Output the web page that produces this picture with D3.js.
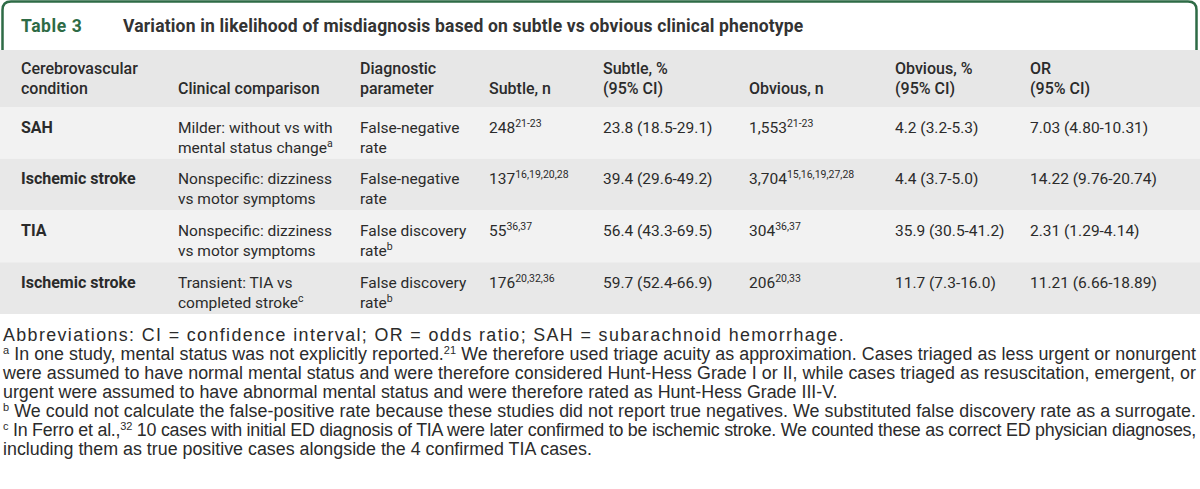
<!DOCTYPE html>
<html>
<head>
<meta charset="utf-8">
<script src="https://cdn.jsdelivr.net/npm/d3@7"></script>
<style>
  body { margin: 0; background: #fff; }
  svg { display: block; }
</style>
</head>
<body>
<script>
// table content, "^" marks the start of a superscript
var tableLabel = 'Table 3';
var tableTitle = 'Variation in likelihood of misdiagnosis based on subtle vs obvious clinical phenotype';

var headers = [
  ['Cerebrovascular', 'condition'],
  ['', 'Clinical comparison'],
  ['Diagnostic', 'parameter'],
  ['', 'Subtle, n'],
  ['Subtle, %', '(95% CI)'],
  ['', 'Obvious, n'],
  ['Obvious, %', '(95% CI)'],
  ['OR', '(95% CI)']
];

var conditions = ['SAH', 'Ischemic stroke', 'TIA', 'Ischemic stroke'];
var comparisons = [
  ['Milder: without vs with', 'mental status change^a'],
  ['Nonspecific: dizziness', 'vs motor symptoms'],
  ['Nonspecific: dizziness', 'vs motor symptoms'],
  ['Transient: TIA vs', 'completed stroke^c']
];
var parameters = [
  ['False-negative', 'rate'],
  ['False-negative', 'rate'],
  ['False discovery', 'rate^b'],
  ['False discovery', 'rate^b']
];
var subtleN = ['248^21-23', '137^16,19,20,28', '55^36,37', '176^20,32,36'];
var subtlePct = ['23.8 (18.5-29.1)', '39.4 (29.6-49.2)', '56.4 (43.3-69.5)', '59.7 (52.4-66.9)'];
var obviousN = ['1,553^21-23', '3,704^15,16,19,27,28', '304^36,37', '206^20,33'];
var obviousPct = ['4.2 (3.2-5.3)', '4.4 (3.7-5.0)', '35.9 (30.5-41.2)', '11.7 (7.3-16.0)'];
var oddsRatio = ['7.03 (4.80-10.31)', '14.22 (9.76-20.74)', '2.31 (1.29-4.14)', '11.21 (6.66-18.89)'];

// footnote lines as they wrap in the original; leading "^x " is the note mark
var footnotes = [
  'Abbreviations: CI = confidence interval; OR = odds ratio; SAH = subarachnoid hemorrhage.',
  '^a In one study, mental status was not explicitly reported.^21 We therefore used triage acuity as approximation. Cases triaged as less urgent or nonurgent',
  'were assumed to have normal mental status and were therefore considered Hunt-Hess Grade I or II, while cases triaged as resuscitation, emergent, or',
  'urgent were assumed to have abnormal mental status and were therefore rated as Hunt-Hess Grade III-V.',
  '^b We could not calculate the false-positive rate because these studies did not report true negatives. We substituted false discovery rate as a surrogate.',
  '^c In Ferro et al.,^32 10 cases with initial ED diagnosis of TIA were later confirmed to be ischemic stroke. We counted these as correct ED physician diagnoses,',
  'including them as true positive cases alongside the 4 confirmed TIA cases.'
];

var width = 1200, height = 489;
var green = '#2e6b46', ink = '#2b2b2b';
var bodyFont = 'Roboto, "Liberation Sans", sans-serif';
var noteFont = '"Liberation Sans", Arial, sans-serif';
// right edge each footnote line is spread to (null = natural width)
var noteEnds = [845, 1196, 1196, null, 1196, 1196, null];

var svg = d3.select('body').append('svg')
  .attr('width', width)
  .attr('height', height);

//columns and rows
var cols = d3.range(headers.length);
var x = d3.scaleOrdinal()
  .domain(cols)
  .range([21, 178, 360, 489, 603, 749, 895, 1030]);

var rows = d3.range(conditions.length);
var y = d3.scaleBand()
  .domain(rows)
  .range([107, 314]);

//title box with rounded top corners
svg.append('path')
  .attr('d', 'M2.5,50V10Q2.5,1.5 11,1.5H1188Q1196.5,1.5 1196.5,10V50')
  .attr('fill', 'none')
  .attr('stroke', green)
  .attr('stroke-width', 2.5);

svg.append('text')
  .attr('x', 21).attr('y', 32)
  .attr('font-family', bodyFont)
  .attr('font-size', 17.5)
  .attr('font-weight', 700)
  .attr('letter-spacing', 0.6)
  .attr('fill', green)
  .text(tableLabel);

svg.append('text')
  .attr('x', 123).attr('y', 32)
  .attr('font-family', bodyFont)
  .attr('font-size', 17.5)
  .attr('font-weight', 700)
  .attr('letter-spacing', 0.18)
  .attr('fill', '#333')
  .text(tableTitle);

//header band
svg.append('rect')
  .attr('x', 0).attr('y', 50)
  .attr('width', width).attr('height', 57)
  .attr('fill', '#e7e7e7');

//row bands
svg.selectAll('rect.row')
  .data(rows)
  .enter().append('rect')
  .attr('class', 'row')
  .attr('x', 0)
  .attr('y', function(d) { return y(d); })
  .attr('width', width)
  .attr('height', y.bandwidth())
  .attr('fill', function(d) { return d % 2 ? '#e8e8e8' : '#f2f2f2'; });

//write a string with an optional "^" superscript into a text element
function richText(sel, s, supSize, shift) {
  var parts = s.split('^');
  sel.append('tspan').text(parts[0]);
  parts.slice(1).forEach(function(p) {
    var m = p.match(/^(\S+)(.*)$/);
    sel.append('tspan')
      .attr('font-size', supSize)
      .attr('dy', -shift)
      .text(m[1]);
    sel.append('tspan')
      .attr('dy', shift)
      .text(m[2]);
  });
}

//header text
cols.forEach(function(c) {
  headers[c].forEach(function(line, i) {
    if (!line) return;
    svg.append('text')
      .attr('x', x(c))
      .attr('y', 73.5 + i * 20)
      .attr('font-family', bodyFont)
      .attr('font-size', 16)
      .attr('font-weight', 500)
      .attr('fill', ink)
      .text(line);
  });
});

//body cells
var cells = [
  conditions.map(function(d) { return [d]; }),
  comparisons,
  parameters,
  subtleN.map(function(d) { return [d]; }),
  subtlePct.map(function(d) { return [d]; }),
  obviousN.map(function(d) { return [d]; }),
  obviousPct.map(function(d) { return [d]; }),
  oddsRatio.map(function(d) { return [d]; })
];

cols.forEach(function(c) {
  rows.forEach(function(r) {
    cells[c][r].forEach(function(line, i) {
      var t = svg.append('text')
        .attr('x', x(c))
        .attr('y', y(r) + 25.5 + i * 20)
        .attr('font-family', bodyFont)
        .attr('font-size', c === 0 ? 16 : 15.5)
        .attr('font-weight', c === 0 ? 700 : 400)
        .attr('fill', ink);
      richText(t, line, 10.5, 6);
    });
  });
});

//footnotes
var notes = svg.selectAll('text.note')
  .data(footnotes)
  .enter().append('text')
  .attr('class', 'note')
  .attr('x', 3)
  .attr('y', function(d, i) { return 341 + i * 19; })
  .attr('font-family', noteFont)
  .attr('font-size', 15)
  .attr('fill', ink)
  .each(function(d) { richText(d3.select(this), d, 11, 6); });

//size the note font from a ragged line (it ends near x=838 in the original),
//then spread or squeeze the other lines to their edges
var w0 = notes.filter(function(d, i) { return i === 3; }).node().getComputedTextLength();
var noteSize = 15 * 835 / w0;
notes.attr('font-size', noteSize);
notes.each(function(d, i) {
  if (noteEnds[i] === null) return;
  var w = this.getComputedTextLength();
  var n = d.replace(/\^/g, '').length;
  d3.select(this).attr('letter-spacing', (noteEnds[i] - 3 - w) / n);
});
</script>
</body>
</html>
